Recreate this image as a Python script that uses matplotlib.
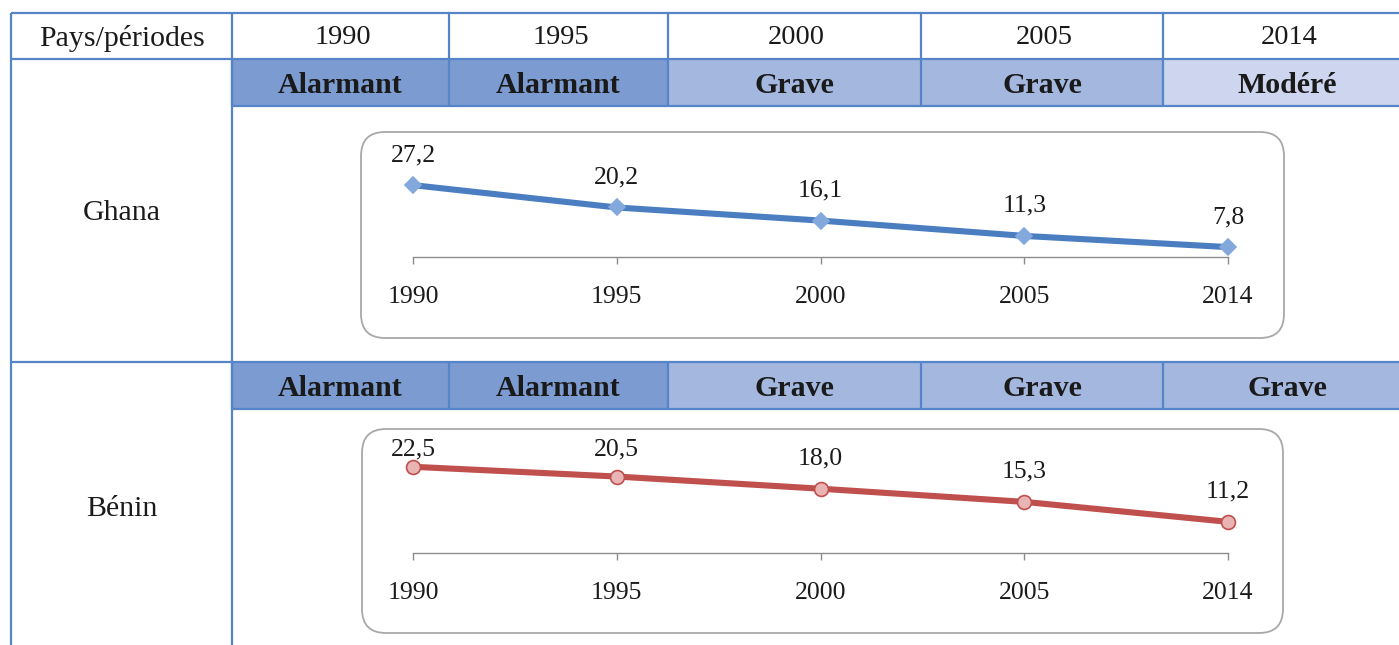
import matplotlib
matplotlib.use('Agg')
from matplotlib import pyplot as plt
from matplotlib.patches import Rectangle, FancyBboxPatch

# data
periods = ['1990', '1995', '2000', '2005', '2014']
ghana = [27.2, 20.2, 16.1, 11.3, 7.8]
benin = [22.5, 20.5, 18.0, 15.3, 11.2]
ghana_status = ['Alarmant', 'Alarmant', 'Grave', 'Grave', 'Modéré']
benin_status = ['Alarmant', 'Alarmant', 'Grave', 'Grave', 'Grave']
countries = ['Ghana', 'Bénin']

status_colors = {'Alarmant': '#7B9BD1', 'Grave': '#A3B7DF', 'Modéré': '#CDD6EE'}
border = '#5585C8'
W, H = 1399, 645
serif = 'Liberation Serif'

fig = plt.figure(figsize=(W / 100, H / 100), dpi=100)
bg = fig.add_axes([0, 0, 1, 1])
bg.set_xlim(0, W)
bg.set_ylim(H, 0)
bg.axis('off')

# column edges (px), last one runs off the page
cols = [11, 232, 449, 668, 921, 1163, 1412]
top, head_bot = 13, 59
status_rows = [(59, 106), (362, 409)]

def line(x0, x1, y0, y1):
    bg.plot([x0, x1], [y0, y1], color=border, lw=1.6, solid_capstyle='butt', zorder=3)

# header
bg.text((cols[0] + cols[1]) / 2, 38, 'Pays/périodes', ha='center', va='center',
        fontsize=21.5, family=serif, color='#1a1a1a')
for i, p in enumerate(periods):
    bg.text((cols[i + 1] + cols[i + 2]) / 2 + 2, 38, p, ha='center', va='center',
            fontsize=20.5, family=serif, color='#1a1a1a')

# status rows
for (y0, y1), statuses in zip(status_rows, [ghana_status, benin_status]):
    for i, s in enumerate(statuses):
        x0, x1 = cols[i + 1], cols[i + 2]
        bg.add_patch(Rectangle((x0, y0), x1 - x0, y1 - y0, facecolor=status_colors[s],
                               edgecolor='none', zorder=1))
        bg.text((x0 + x1) / 2, (y0 + y1) / 2 + 3, s, ha='center', va='center',
                fontsize=21.5, fontweight='bold', family=serif, color='#1a1a1a', zorder=4)
        line(x0, x0, y0, y1)
    line(cols[1], cols[-1], y1, y1)

# country names
bg.text((cols[0] + cols[1]) / 2, 213, countries[0], ha='center', va='center',
        fontsize=21.5, family=serif, color='#1a1a1a')
bg.text((cols[0] + cols[1]) / 2, 509, countries[1], ha='center', va='center',
        fontsize=21.5, family=serif, color='#1a1a1a')

# grid lines
line(cols[0], cols[-1], top, top)
line(cols[0], cols[-1], head_bot, head_bot)
line(cols[0], cols[-1], 362, 362)
line(cols[0], cols[0], top, H + 5)
line(cols[1], cols[1], top, H + 5)
for x in cols[2:-1]:
    line(x, x, top, head_bot)

# rounded chart frames
frames = [(361, 132, 1284, 338), (362, 429, 1283, 633)]
for (x0, y0, x1, y1) in frames:
    bg.add_patch(FancyBboxPatch((x0, y0), x1 - x0, y1 - y0,
                                boxstyle='round,pad=0,rounding_size=24',
                                facecolor='white', edgecolor='#A8A8A8', lw=1.3, zorder=1))

def small_chart(values, ax_box, ylim, frame_top, color, marker, mface, msize):
    x0, y0, x1, y1 = ax_box
    ax = fig.add_axes([x0 / W, 1 - y1 / H, (x1 - x0) / W, (y1 - y0) / H])
    ax.set_facecolor('none')
    ax.set_xlim(0, len(values) - 1)
    ax.set_ylim(*ylim)
    xs = range(len(values))
    ax.plot(xs, values, color=color, lw=4.4, marker=marker, markersize=msize,
            markerfacecolor=mface, markeredgecolor=mface if marker == 'D' else color,
            markeredgewidth=1.2, clip_on=False, zorder=3)
    for x, v in zip(xs, values):
        # keep the label inside the frame like excel does
        py = H - ax.transData.transform((x, v))[1]
        off = min(30, py - (frame_top + 20))
        ax.annotate(f'{v:.1f}'.replace('.', ','), (x, v), xytext=(0, off * 0.72),
                    textcoords='offset points', ha='center', va='center',
                    fontsize=18.5, family=serif, color='#1a1a1a')
    ax.set_xticks(list(xs))
    ax.set_xticklabels(periods, fontsize=18.5, family=serif, color='#1a1a1a')
    ax.tick_params(axis='x', length=5, width=1, color='#8C8C8C', pad=16)
    ax.set_yticks([])
    for side in ['top', 'left', 'right']:
        ax.spines[side].set_visible(False)
    ax.spines['bottom'].set_color('#8C8C8C')
    ax.spines['bottom'].set_linewidth(1)
    return ax

small_chart(ghana, (413, 150, 1228, 257), (4.7, 38.2), frames[0][1],
            '#4A7EC1', 'D', '#82A8DC', 8)
small_chart(benin, (413, 440, 1228, 553), (4.8, 28.0), frames[1][1],
            '#C0504D', 'o', '#E8B4B4', 10)

fig.savefig('out.png', dpi=100)
